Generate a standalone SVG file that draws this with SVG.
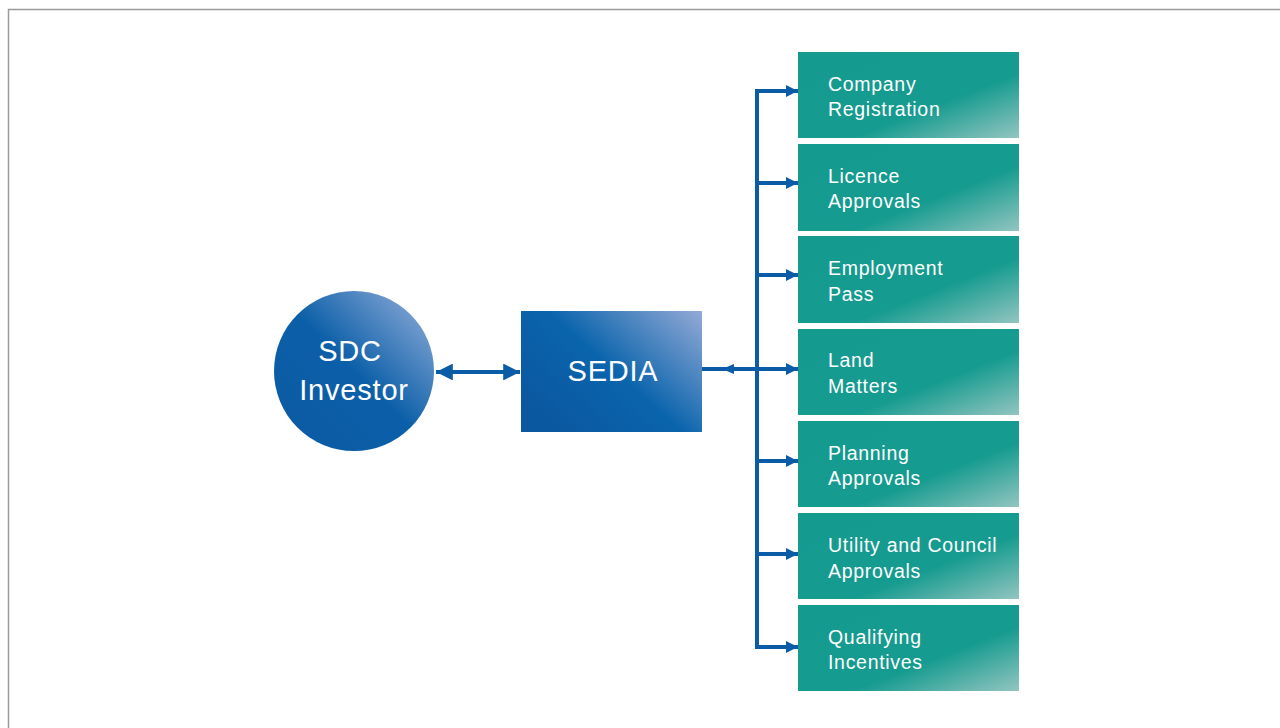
<svg xmlns="http://www.w3.org/2000/svg" width="1280" height="728" viewBox="0 0 1280 728">
<defs>
<linearGradient id="gCircle" x1="0" y1="1" x2="1" y2="0">
<stop offset="0" stop-color="#0c5aa3"/>
<stop offset="0.5" stop-color="#0b5fa8"/>
<stop offset="1" stop-color="#9bb2dc"/>
</linearGradient>
<linearGradient id="gSedia" x1="0" y1="0.75" x2="1" y2="0">
<stop offset="0" stop-color="#0a58a0"/>
<stop offset="0.45" stop-color="#0a64ac"/>
<stop offset="1" stop-color="#94aad6"/>
</linearGradient>
<linearGradient id="gTeal" x1="0" y1="0" x2="1" y2="1" gradientUnits="objectBoundingBox">
<stop offset="0" stop-color="#149a8e"/>
<stop offset="0.62" stop-color="#159b8f"/>
<stop offset="1" stop-color="#93c5c0"/>
</linearGradient>
<marker id="ah" viewBox="0 0 10 10" refX="10" refY="5" markerWidth="3" markerHeight="3" orient="auto" markerUnits="strokeWidth">
<path d="M0,0 L10,5 L0,10 z" fill="#0a5ca6"/>
</marker>
<marker id="ahBig" viewBox="0 0 10 10" refX="10" refY="5" markerWidth="4.2" markerHeight="4.2" orient="auto-start-reverse" markerUnits="strokeWidth">
<path d="M0,0 L10,5 L0,10 z" fill="#0a5ca6"/>
</marker>
</defs>
<style>
.teal{fill:url(#gTeal);}
.lbl{font-family:"Liberation Sans",Arial,sans-serif;font-size:19.5px;letter-spacing:0.7px;fill:#ffffff;}
.big{font-family:"Liberation Sans",Arial,sans-serif;font-size:29px;letter-spacing:0.8px;fill:#ffffff;}
.con{stroke:#0a5ca6;stroke-width:4;fill:none;}
</style>
<rect width="1280" height="728" fill="#ffffff"/>
<path d="M8.5,728 L8.5,9.5 L1280,9.5" fill="none" stroke="#9a9a9a" stroke-width="1.5"/>

<g id="connectors">
<line class="con" x1="436" y1="372" x2="520" y2="372" marker-start="url(#ahBig)" marker-end="url(#ahBig)"/>
<line class="con" x1="702" y1="369" x2="757" y2="369"/>
<path d="M722,369 L734,364 L734,374 z" fill="#0a5ca6"/>
<path class="con" d="M798,91 L757,91 L757,647 L798,647"/>
<line class="con" x1="757" y1="91" x2="798" y2="91" marker-end="url(#ah)"/>
<line class="con" x1="757" y1="183" x2="798" y2="183" marker-end="url(#ah)"/>
<line class="con" x1="757" y1="275" x2="798" y2="275" marker-end="url(#ah)"/>
<line class="con" x1="757" y1="369" x2="798" y2="369" marker-end="url(#ah)"/>
<line class="con" x1="757" y1="461" x2="798" y2="461" marker-end="url(#ah)"/>
<line class="con" x1="757" y1="554" x2="798" y2="554" marker-end="url(#ah)"/>
<line class="con" x1="757" y1="647" x2="798" y2="647" marker-end="url(#ah)"/>
</g>

<g id="investor">
<circle cx="354" cy="371" r="80" fill="url(#gCircle)"/>
<text class="big" x="350" y="361" text-anchor="middle">SDC</text>
<text class="big" x="354" y="400" text-anchor="middle">Investor</text>
</g>

<g id="sedia">
<rect x="521" y="311" width="181" height="121" fill="url(#gSedia)"/>
<text class="big" x="613" y="381" text-anchor="middle">SEDIA</text>
</g>

<g id="company">
<rect class="teal" x="798" y="52" width="221" height="86"/>
<text class="lbl" x="828" y="91">Company</text>
<text class="lbl" x="828" y="116">Registration</text>
</g>
<g id="licence">
<rect class="teal" x="798" y="144" width="221" height="87"/>
<text class="lbl" x="828" y="183">Licence</text>
<text class="lbl" x="828" y="208">Approvals</text>
</g>
<g id="employment">
<rect class="teal" x="798" y="236" width="221" height="87"/>
<text class="lbl" x="828" y="275">Employment</text>
<text class="lbl" x="828" y="301">Pass</text>
</g>
<g id="land">
<rect class="teal" x="798" y="329" width="221" height="86"/>
<text class="lbl" x="828" y="367">Land</text>
<text class="lbl" x="828" y="393">Matters</text>
</g>
<g id="planning">
<rect class="teal" x="798" y="421" width="221" height="86"/>
<text class="lbl" x="828" y="460">Planning</text>
<text class="lbl" x="828" y="485">Approvals</text>
</g>
<g id="utility">
<rect class="teal" x="798" y="513" width="221" height="86"/>
<text class="lbl" x="828" y="552">Utility and Council</text>
<text class="lbl" x="828" y="578">Approvals</text>
</g>
<g id="qualifying">
<rect class="teal" x="798" y="605" width="221" height="86"/>
<text class="lbl" x="828" y="644">Qualifying</text>
<text class="lbl" x="828" y="669">Incentives</text>
</g>
</svg>
